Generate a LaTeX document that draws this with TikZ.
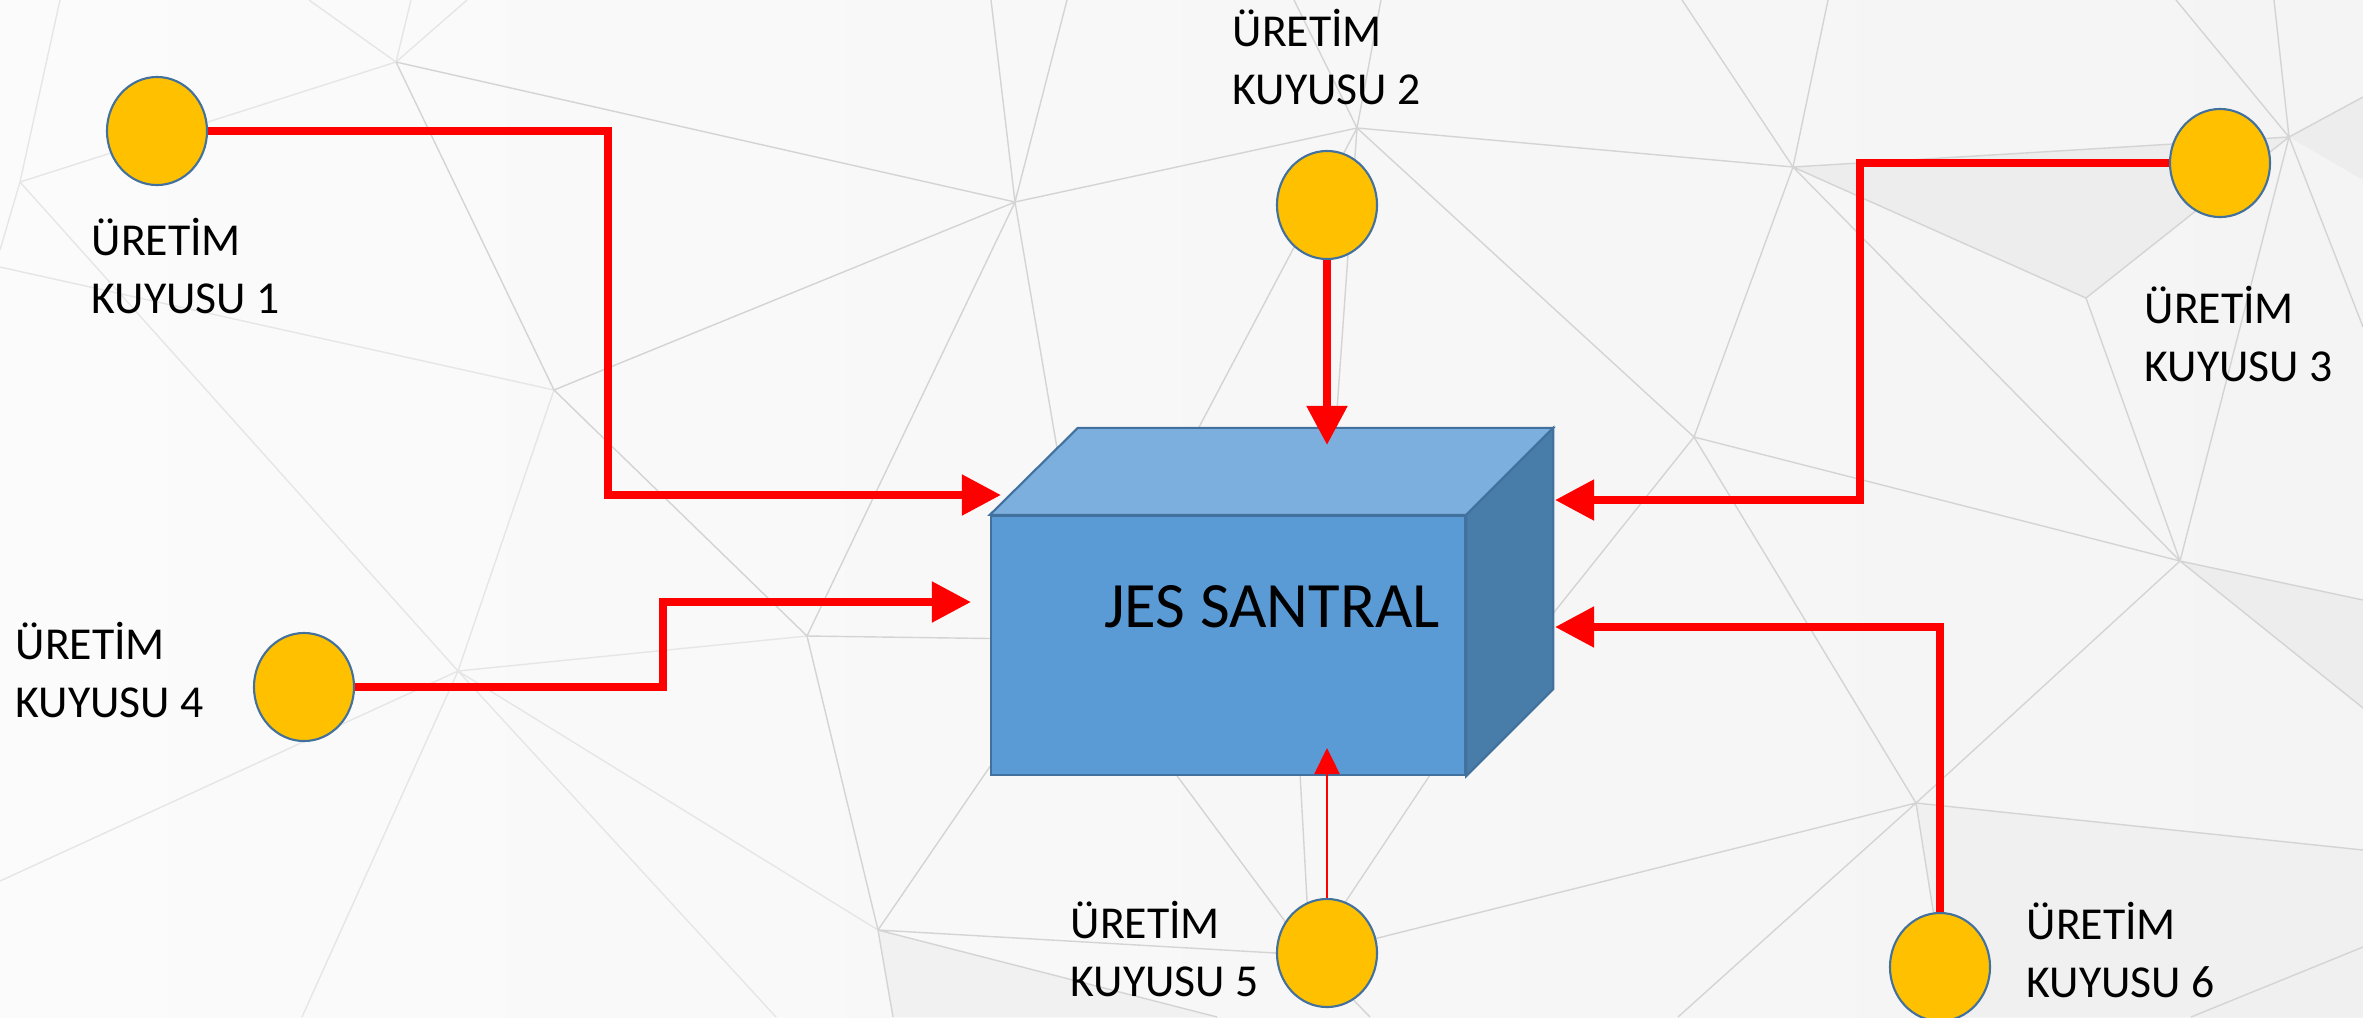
\documentclass[tikz,border=0pt]{standalone}
\usepackage{fontspec}
\setmainfont{Carlito}
\usepackage{xcolor}
\usepackage{tikz}
\usetikzlibrary{positioning, arrows.meta, calc, shapes.geometric}
\definecolor{paperL}{RGB}{251, 251, 251}
\definecolor{paperR}{RGB}{244, 244, 244}
\definecolor{bgshade}{RGB}{237, 237, 237}
\definecolor{meshgray}{RGB}{212, 212, 212}
\definecolor{meshfaint}{RGB}{230, 230, 230}
\definecolor{wellgold}{RGB}{255, 192, 0}
\definecolor{edgeblue}{RGB}{65, 113, 156}
\definecolor{frontblue}{RGB}{91, 155, 213}
\definecolor{topblue}{RGB}{124, 175, 221}
\definecolor{sideblue}{RGB}{72, 125, 170}
\definecolor{pipered}{RGB}{255, 0, 0}
\tikzset{
  well/.style={ellipse, draw=edgeblue, fill=wellgold, line width=0.6pt,
               minimum width=1cm, minimum height=1.08cm, inner sep=0pt},
  lbl/.style={font=\fontsize{13}{16.4}\selectfont, align=left,
              anchor=base west, inner sep=0pt},
  front/.style={draw=edgeblue, fill=frontblue, line width=0.6pt,
                minimum width=4.74cm, minimum height=2.59cm, inner sep=0pt},
  face/.style={draw=edgeblue, fill=#1, line width=0.6pt},
  pipe/.style={draw=pipered, line width=0.08cm,
               -{Triangle[length=0.39cm, width=0.39cm]}},
  thinpipe/.style={draw=pipered, line width=0.025cm,
                   -{Triangle[length=0.26cm, width=0.25cm]}},
  mesh/.style={draw=#1, line width=0.4pt},
}

\begin{document}
\begin{tikzpicture}[x=0.01cm, y=-0.01cm]
  % Paper
  \shade[left color=paperL, right color=paperR] (0,0) rectangle (2363,1017);
  \useasboundingbox (0,0) rectangle (2363,1017);
  % Low-poly mesh in the background
  \coordinate (m1) at (396,62);
  \coordinate (m2) at (1015,202);
  \coordinate (m3) at (554,390);
  \coordinate (m4) at (20,182);
  \coordinate (m5) at (1357,128);
  \coordinate (m6) at (1793,167);
  \coordinate (m7) at (2289,137);
  \coordinate (m8) at (2086,298);
  \coordinate (m9) at (1694,437);
  \coordinate (m10) at (458,671);
  \coordinate (m11) at (807,636);
  \coordinate (m12) at (878,930);
  \coordinate (m13) at (1916,803);
  \coordinate (m14) at (2180,561);
  \coordinate (m15) at (1310,955);
  \fill[bgshade] (m6) -- (m8) -- (m7) -- cycle;
  \fill[bgshade] (m7) -- (2363,97) -- (2363,180) -- cycle;
  \fill[bgshade] (m14) -- (2363,600) -- (2363,708) -- cycle;
  \fill[bgshade!50!paperR] (m13) -- (2363,850) -- (2363,1017) -- (1950,1017) -- cycle;
  \fill[bgshade!40!paperR] (m12) -- (1217,1017) -- (893,1017) -- cycle;
  \draw[mesh=meshfaint]
    (m1) -- (309,0) (m1) -- (467,0) (m1) -- (411,0) (m1) -- (m4)
    (m4) -- (60,0) (m4) -- (0,250) (m3) -- (0,267)
    (m10) -- (m4) (m10) -- (0,881) (m10) -- (302,1017)
    (m10) -- (776,1017) (m10) -- (m12) (m10) -- (m3) (m10) -- (m11);
  \draw[mesh=meshgray]
    (m1) -- (m2) (m1) -- (m3) (m2) -- (991,0) (m2) -- (1067,0)
    (m2) -- (m5) (m2) -- (m3) (m2) -- (m11) (m2) -- (1100,700)
    (m3) -- (m11) (m11) -- (1100,640) (m11) -- (m12)
    (m12) -- (1104,600) (m12) -- (m15) (m12) -- (1217,1017) (m12) -- (893,1017)
    (m15) -- (m13) (m15) -- (1100,672) (m15) -- (1296,700)
    (m15) -- (1480,700) (m15) -- (1370,1017)
    (m5) -- (1381,0) (m5) -- (1294,0) (m5) -- (m6) (m5) -- (m9)
    (m5) -- (1150,520) (m5) -- (1332,480)
    (m6) -- (1682,0) (m6) -- (1828,0) (m6) -- (m7) (m6) -- (m9)
    (m6) -- (m8) (m6) -- (m14)
    (m7) -- (2176,0) (m7) -- (2274,0) (m7) -- (2363,97) (m7) -- (m14)
    (m7) -- (2363,327) (m7) -- (m8) (m8) -- (m14)
    (m9) -- (1500,680) (m9) -- (m14) (m9) -- (m13)
    (m13) -- (m14) (m13) -- (2363,850) (m13) -- (1678,1017) (m13) -- (1950,1017)
    (m14) -- (2363,600) (m14) -- (2363,708) (2191,1017) -- (2363,947);
  % Power plant block
  \node[front] (plant) at (1228,645.5) {};
  \path[face=topblue] (plant.north west) -- ++(88,-87)
    -- ($(plant.north east)+(87,-87)$) -- (plant.north east) -- cycle;
  \path[face=sideblue] (plant.north east) -- ++(87,-87)
    -- ($(plant.south east)+(87,-87)$) -- (plant.south east) -- cycle;
  \node[font=\fontsize{18.4}{22}\selectfont, anchor=base, inner sep=0pt]
    (plantname) at (1272,627) {JES SANTRAL};
  % Production wells (labels sit on the baseline of their last line)
  \node[well] (w1) at (157,131) {};
  \node[well] (w2) at (1327,205) {};
  \node[well] (w3) at (2220,163) {};
  \node[well] (w4) at (304,687) {};
  \node[well] (w5) at (1327,953) {};
  \node[well] (w6) at (1940,967) {};
  \node[lbl] (t1) at (91,313) {ÜRETİM\\KUYUSU 1};
  \node[lbl] (t2) at (1232,104) {ÜRETİM\\KUYUSU 2};
  \node[lbl] (t3) at (2144,381) {ÜRETİM\\KUYUSU 3};
  \node[lbl] (t4) at (15,717) {ÜRETİM\\KUYUSU 4};
  \node[lbl] (t5) at (1070,996) {ÜRETİM\\KUYUSU 5};
  \node[lbl] (t6) at (2026,997) {ÜRETİM\\KUYUSU 6};
  % Inlets on the block
  \coordinate (in1) at (1001,495);
  \coordinate (in2) at (1327,445);
  \coordinate (in3) at (1555,500);
  \coordinate (in4) at (971,602);
  \coordinate (in5) at (1327,748);
  \coordinate (in6) at (1555,627);
  % Pipes
  \draw[pipe] (w1.east) -- ++(400,0) |- (in1);
  \draw[pipe] (w2.south) -- (in2);
  \draw[pipe] (w3.west) -- ++(-309,0) |- (in3);
  \draw[pipe] (w4.east) -- ++(308,0) |- (in4);
  \draw[thinpipe] (w5.north) -- (in5);
  \draw[pipe] (w6.north) |- (in6);
\end{tikzpicture}
\end{document}
